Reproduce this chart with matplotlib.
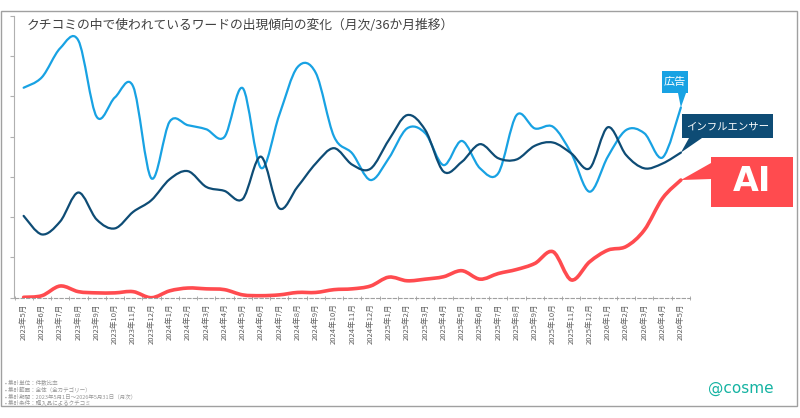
import numpy as np
import matplotlib
matplotlib.use('Agg')
import matplotlib.pyplot as plt
from matplotlib.path import Path
from matplotlib.patches import PathPatch, Rectangle, Polygon

plt.rcParams['font.family'] = ['Noto Sans CJK JP', 'DejaVu Sans']

# 月ラベル (2023年5月〜2026年5月, 37か月)
months = [f'{2023 + (4 + i) // 12}年{(4 + i) % 12 + 1}月' for i in range(37)]

# 出現比率 (目盛り単位で読み取り)
ad = [5.21, 5.47, 6.19, 6.38, 4.49, 4.97, 5.24, 2.96, 4.37, 4.28,
      4.18, 3.99, 5.20, 3.22, 4.53, 5.72, 5.58, 4.00, 3.58, 2.92,
      3.46, 4.20, 4.08, 3.29, 3.89, 3.21, 3.09, 4.53, 4.20, 4.24,
      3.58, 2.63, 3.50, 4.16, 4.08, 3.48, 4.72]
influencer = [2.03, 1.57, 1.89, 2.61, 1.94, 1.72, 2.13, 2.42, 2.94, 3.14,
              2.75, 2.65, 2.45, 3.50, 2.22, 2.75, 3.33, 3.71, 3.30, 3.20,
              3.91, 4.53, 4.16, 3.13, 3.37, 3.81, 3.46, 3.43, 3.77, 3.85,
              3.58, 3.21, 4.23, 3.54, 3.21, 3.33, 3.60]
ai = [0.01, 0.05, 0.29, 0.15, 0.12, 0.12, 0.15, 0.00, 0.17, 0.24,
      0.22, 0.20, 0.07, 0.05, 0.07, 0.13, 0.13, 0.20, 0.22, 0.29,
      0.51, 0.42, 0.46, 0.52, 0.67, 0.46, 0.60, 0.70, 0.85, 1.14,
      0.44, 0.89, 1.18, 1.27, 1.68, 2.47, 2.92]

LIGHT = '#18A2E3'
DARK = '#0E4C75'
RED = '#FF4B4F'

W, H = 800, 418


def px(x, y_top):
    # 画像ピクセル(上基準) -> figure座標
    return (x / W, 1 - y_top / H)


def smooth_path(xs, ys):
    # Excelの「スムージング」風にCatmull-Romで曲線化
    pts = np.column_stack([xs, ys]).astype(float)
    p = np.vstack([pts[0], pts, pts[-1]])
    verts = [pts[0]]
    codes = [Path.MOVETO]
    for i in range(1, len(p) - 2):
        c1 = p[i] + (p[i + 1] - p[i - 1]) / 6
        c2 = p[i + 1] - (p[i + 2] - p[i]) / 6
        verts += [c1, c2, p[i + 1]]
        codes += [Path.CURVE4] * 3
    return Path(verts, codes)


fig = plt.figure(figsize=(8, 4.18), dpi=100)
l, b = px(14.5, 297.7)
r, t = px(690, 15.6)
ax = fig.add_axes([l, b, r - l, t - b])

x = np.arange(len(months))
for vals, col, lw in [(ad, LIGHT, 1.6), (influencer, DARK, 1.6), (ai, RED, 2.6)]:
    ax.add_patch(PathPatch(smooth_path(x, vals), fc='none', ec=col, lw=lw,
                           capstyle='round', joinstyle='round', zorder=3))

ax.set_xlim(-0.5, len(months) - 0.5)
ax.set_ylim(0, 7)

ax.spines['top'].set_visible(False)
ax.spines['right'].set_visible(False)
ax.spines['left'].set_color('#B0B0B0')
ax.spines['bottom'].set_color('#A0A0A0')
ax.spines['bottom'].set_linestyle((0, (3, 2)))
ax.spines['bottom'].set_linewidth(0.8)

ax.set_yticks(range(8))
ax.set_yticklabels([])
ax.tick_params(axis='y', direction='out', length=3, color='#B0B0B0')

ax.set_xticks(x)
ax.set_xticklabels(months, rotation=90, fontsize=5.5, color='#606060')
ax.set_xticks(np.arange(-0.5, len(months)), minor=True)
ax.tick_params(axis='x', which='major', length=0, pad=4)
ax.tick_params(axis='x', which='minor', direction='inout', length=3, color='#A0A0A0')
for lab in ax.get_xticklabels():
    lab.set_verticalalignment('top')

# 外枠
fig.add_artist(Rectangle(px(1, 406), 796 / W, 395 / H, fill=False,
                         ec='#A0A0A0', lw=1, transform=fig.transFigure))

fig.text(*px(27, 25), 'クチコミの中で使われているワードの出現傾向の変化（月次/36か月推移）',
         fontsize=9.2, color='#404040', va='center', ha='left')

notes = ['• 集計単位：件数比率',
         '• 集計範囲：全体（全カテゴリー）',
         '• 集計期間：2023年5月1日～2026年5月31日（月次）',
         '• 集計条件：購入品によるクチコミ']
for i, n in enumerate(notes):
    fig.text(*px(5, 382.5 + i * 6.7), n, fontsize=4, color='#999999', va='center')

fig.text(*px(741, 388), '@cosme', fontsize=11, color='#15B3A2',
         family='DejaVu Sans', ha='center', va='center')


def to_fig(xd, yd):
    d = ax.transData.transform((xd, yd))
    return fig.transFigure.inverted().transform(d)


def callout(x0, y0, x1, y1, color, text, size, tail, point, **kw):
    fig.add_artist(Rectangle(px(x0, y1), (x1 - x0) / W, (y1 - y0) / H,
                             fc=color, ec='none', transform=fig.transFigure, zorder=4))
    verts = [px(*tail[0]), px(*tail[1]), to_fig(*point)]
    fig.add_artist(Polygon(verts, closed=True, fc=color, ec='none',
                           transform=fig.transFigure, zorder=4))
    fig.text(*px((x0 + x1) / 2, (y0 + y1) / 2), text, color='white', fontsize=size,
             ha='center', va='center', zorder=5, **kw)


last = len(months) - 1
callout(661.7, 70.7, 688.3, 93.3, LIGHT, '広告', 8,
        [(678, 93), (686, 93)], (last, ad[-1]))
callout(681.7, 114, 772.7, 138.3, DARK, 'インフルエンサー', 7.5,
        [(689, 138), (702, 138)], (last, influencer[-1]))
callout(710.7, 157.3, 793.3, 206.7, RED, 'AI', 24,
        [(711, 163), (711, 179)], (last, ai[-1]),
        weight='bold', family='DejaVu Sans')

fig.savefig('out.png', dpi=100)
